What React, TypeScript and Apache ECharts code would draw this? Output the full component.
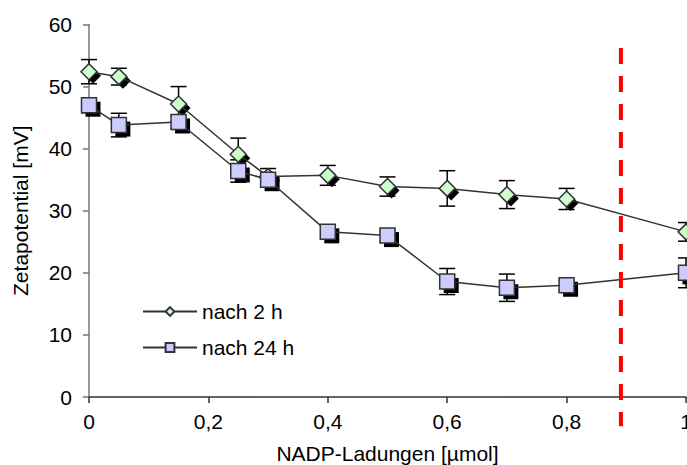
import React, { useEffect, useRef } from "react";
import * as echarts from "echarts";

const xValues = [0, 0.05, 0.15, 0.25, 0.3, 0.4, 0.5, 0.6, 0.7, 0.8, 1.0];
const after2h = [52.4, 51.6, 47.2, 39.1, 35.5, 35.7, 33.9, 33.6, 32.6, 31.9, 26.6];
const err2h = [1.95, 1.35, 2.8, 2.6, 1.3, 1.6, 1.55, 2.85, 2.25, 1.7, 1.5];
const after24h = [47.0, 43.8, 44.3, 36.4, 35.0, 26.6, 26.0, 18.6, 17.6, 18.0, 20.0];
const err24h = [1.2, 1.9, 1.0, 1.8, 1.0, 0.9, 0.9, 2.1, 2.2, 0.8, 2.4];
const seriesNames = ["nach 2 h", "nach 24 h"];
const thresholdLine = [[0.891, 56.2, -4.7]];
const xTitle = "NADP-Ladungen [µmol]";
const yTitle = "Zetapotential [mV]";

const FONT = "Liberation Sans, Arial, sans-serif";

function errorSeries(vals: number[], errs: number[]) {
  return {
    type: "custom",
    silent: true,
    z: 2,
    clip: false,
    encode: { x: 0, y: [1, 2] },
    data: xValues.map((x, i) => [x, vals[i] - errs[i], vals[i] + errs[i]]),
    renderItem: (params: any, api: any) => {
      const x = api.value(0);
      const lo = api.coord([x, api.value(1)]);
      const hi = api.coord([x, api.value(2)]);
      const w = 8;
      const style = { stroke: "#000", lineWidth: 1.5 };
      return {
        type: "group",
        children: [
          { type: "line", shape: { x1: lo[0], y1: lo[1], x2: hi[0], y2: hi[1] }, style },
          { type: "line", shape: { x1: lo[0] - w, y1: lo[1], x2: lo[0] + w, y2: lo[1] }, style },
          { type: "line", shape: { x1: hi[0] - w, y1: hi[1], x2: hi[0] + w, y2: hi[1] }, style },
        ],
      };
    },
  };
}

function shadowSeries(vals: number[], symbol: string, size: number) {
  return {
    type: "scatter",
    silent: true,
    z: 3,
    symbol,
    symbolSize: size,
    symbolOffset: [4, 4],
    itemStyle: { color: "#000", opacity: 1 },
    data: xValues.map((x, i) => [x, vals[i]]),
  };
}

function lineSeries(name: string, vals: number[], symbol: string, size: number, fill: string) {
  return {
    type: "line",
    name,
    z: 4,
    symbol,
    symbolSize: size,
    showSymbol: true,
    showAllSymbol: true,
    itemStyle: { color: fill, borderColor: "#333", borderWidth: 1.5, opacity: 1 },
    lineStyle: { color: "#333", width: 1.5 },
    emphasis: { disabled: true },
    data: xValues.map((x, i) => [x, vals[i]]),
  };
}

export default function App() {
  const ref = useRef<HTMLDivElement>(null);
  useEffect(() => {
    if (!ref.current) return;
    const chart = echarts.init(ref.current, undefined, { renderer: "svg" });
    const fmt = (v: number) => String(Math.round(v * 100) / 100).replace(".", ",");
    chart.setOption({
      animation: false,
      backgroundColor: "#fff",
      textStyle: { fontFamily: FONT },
      grid: { left: 89, right: 1, top: 24.5, bottom: 68, outerBoundsMode: "none", containLabel: false },
      legend: {
        data: seriesNames,
        orient: "vertical",
        left: 137,
        top: 296,
        itemWidth: 54,
        itemHeight: 11,
        itemGap: 15,
        textStyle: { fontSize: 21, color: "#000", fontFamily: FONT },
      },
      xAxis: {
        type: "value",
        min: 0,
        max: 1,
        interval: 0.2,
        name: xTitle,
        nameLocation: "middle",
        nameGap: 46,
        nameTextStyle: { fontSize: 21, color: "#000", fontFamily: FONT },
        axisLine: { lineStyle: { color: "#333", width: 1.5 } },
        axisTick: { show: true, inside: false, length: 6, lineStyle: { color: "#333", width: 1.5 } },
        axisLabel: { fontSize: 21, color: "#000", margin: 14, formatter: fmt, fontFamily: FONT },
        splitLine: { show: false },
      },
      yAxis: {
        type: "value",
        min: 0,
        max: 60,
        interval: 10,
        name: yTitle,
        nameLocation: "middle",
        nameGap: 58,
        nameTextStyle: { fontSize: 21, color: "#000", fontFamily: FONT },
        axisLine: { show: true, lineStyle: { color: "#777", width: 1.5 } },
        axisTick: { show: true, inside: false, length: 6, lineStyle: { color: "#777", width: 1.5 } },
        axisLabel: { fontSize: 21, color: "#000", margin: 17, formatter: fmt, fontFamily: FONT },
        splitLine: { show: false },
      },
      series: [
        errorSeries(after2h, err2h),
        errorSeries(after24h, err24h),
        shadowSeries(after2h, "diamond", 16),
        shadowSeries(after24h, "rect", 15),
        lineSeries(seriesNames[0], after2h, "diamond", 16, "#ccffcc"),
        lineSeries(seriesNames[1], after24h, "rect", 15, "#ccccff"),
        {
          type: "custom",
          silent: true,
          z: 5,
          clip: false,
          encode: { x: 0, y: [1, 2] },
          data: thresholdLine,
          renderItem: (params: any, api: any) => {
            const x = api.value(0);
            const top = api.coord([x, api.value(1)]);
            const bot = api.coord([x, api.value(2)]);
            return {
              type: "line",
              shape: { x1: top[0], y1: top[1], x2: bot[0], y2: bot[1] },
              style: { stroke: "#ff0000", lineWidth: 4, lineDash: [16, 12], lineCap: "butt" },
            };
          },
        },
      ],
    });
    return () => chart.dispose();
  }, []);
  return (
    <div
      ref={ref}
      style={{ position: "fixed", left: 0, top: 0, width: 687, height: 465, background: "#fff" }}
    />
  );
}
